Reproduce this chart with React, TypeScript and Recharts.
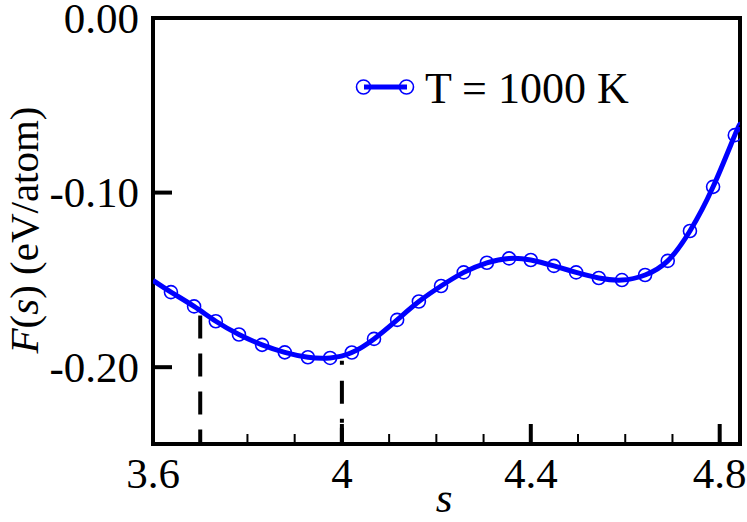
import React from "react";
import {
  LineChart,
  Line,
  XAxis,
  YAxis,
  ReferenceArea,
  ReferenceLine,
} from "recharts";

// marker positions (s) and free energy F(s) in eV/atom
const sMarks = [
  3.638, 3.687, 3.733, 3.782, 3.831, 3.879, 3.928, 3.975, 4.021, 4.068, 4.117,
  4.163, 4.21, 4.258, 4.307, 4.354, 4.4, 4.449, 4.496, 4.544, 4.593, 4.642,
  4.69, 4.737, 4.786, 4.832,
];
const fMarks = [
  -0.157, -0.1652, -0.1737, -0.1813, -0.1872, -0.1915, -0.1943, -0.1947,
  -0.1916, -0.1838, -0.1729, -0.1624, -0.1535, -0.1457, -0.1402, -0.1377,
  -0.1386, -0.142, -0.1457, -0.1489, -0.1501, -0.1472, -0.1391, -0.122,
  -0.0967, -0.0671,
];
// where the fitted curve meets the frame
const curveStart = { s: 3.6, f: -0.1503 };
const curveEnd = { s: 4.843, f: -0.061 };

const xTicks = [3.6, 3.7, 3.8, 3.9, 4.0, 4.1, 4.2, 4.3, 4.4, 4.5, 4.6, 4.7, 4.8];
const xMajor = [3.6, 4.0, 4.4, 4.8];
const yTicks = [0, -0.1, -0.2];
const yLabels = ["0.00", "-0.10", "-0.20"];

const X_MIN = 3.6;
const X_MAX = 4.843;
const Y_MIN = -0.244;
const Y_MAX = 0;

const FONT =
  '"Liberation Serif", "Times New Roman", Times, Tinos, "Nimbus Roman", "Noto Serif", "DejaVu Serif", FreeSerif, serif';
const BLUE = "#0000ff";
const txt = { fontFamily: FONT, fontSize: 43 };

const markData = sMarks.map((s, i) => ({ s, f: fMarks[i] }));
const curveData = [curveStart, ...markData, curveEnd];

function XTick(props: any) {
  const { x, y, payload } = props;
  const v = payload.value;
  const major = xMajor.some((m) => Math.abs(m - v) < 1e-6);
  return (
    <g>
      <line
        x1={x}
        x2={x}
        y1={y}
        y2={y - (major ? 20 : 10)}
        stroke="#000"
        strokeWidth={major ? 4 : 2}
      />
      {major && (
        <text x={x} y={y + 44} textAnchor="middle" fill="#000" style={txt}>
          {String(v)}
        </text>
      )}
    </g>
  );
}

function YTick(props: any) {
  const { x, y, payload, index } = props;
  return (
    <g>
      <line x1={x} x2={x + 19} y1={y} y2={y} stroke="#000" strokeWidth={4} />
      <text x={x - 14} y={y + 14.5} textAnchor="end" fill="#000" style={txt}>
        {yLabels[index] ?? String(payload.value)}
      </text>
    </g>
  );
}

export default function App() {
  return (
    <div style={{ position: "absolute", left: 0, top: 0, width: 747, height: 522, background: "#fff" }}>
      <LineChart
        width={747}
        height={522}
        margin={{ top: 18, right: 7, left: 0, bottom: 0 }}
      >
        <XAxis
          dataKey="s"
          type="number"
          domain={[X_MIN, X_MAX]}
          ticks={xTicks}
          allowDataOverflow
          axisLine={false}
          tickLine={false}
          tickSize={0}
          tickMargin={0}
          height={78}
          tick={<XTick />}
          interval={0}
        />
        <YAxis
          dataKey="f"
          type="number"
          domain={[Y_MIN, Y_MAX]}
          ticks={yTicks}
          allowDataOverflow
          axisLine={false}
          tickLine={false}
          tickSize={0}
          tickMargin={0}
          width={153}
          tick={<YTick />}
          interval={0}
        />
        <ReferenceLine
          segment={[
            { x: 3.7, y: -0.1704 },
            { x: 3.7, y: Y_MIN },
          ]}
          stroke="#000"
          strokeWidth={4}
          strokeDasharray="23 15"
        />
        <ReferenceLine
          segment={[
            { x: 4.0, y: -0.1963 },
            { x: 4.0, y: Y_MIN },
          ]}
          stroke="#000"
          strokeWidth={4}
          strokeDasharray="4 16 23 15 4 5 23 15"
        />
        <Line
          data={curveData}
          dataKey="f"
          type="natural"
          stroke={BLUE}
          strokeWidth={5}
          dot={false}
          activeDot={false}
          isAnimationActive={false}
        />
        <Line
          data={markData}
          dataKey="f"
          stroke="none"
          dot={{ r: 6.5, stroke: BLUE, strokeWidth: 1.6, fill: "none" }}
          activeDot={false}
          isAnimationActive={false}
        />
        <ReferenceArea
          x1={X_MIN}
          x2={X_MAX}
          y1={Y_MIN}
          y2={Y_MAX}
          fill="none"
          stroke="#000"
          strokeWidth={4}
          ifOverflow="visible"
        />
        <g>
          <line x1={364} x2={407} y1={87} y2={87} stroke={BLUE} strokeWidth={5} />
          <circle cx={363.5} cy={87} r={7} fill="none" stroke={BLUE} strokeWidth={1.6} />
          <circle cx={406.5} cy={87} r={7} fill="none" stroke={BLUE} strokeWidth={1.6} />
          <text x={425} y={102.5} fill="#000" style={{ fontFamily: FONT, fontSize: 44 }}>
            T = 1000 K
          </text>
        </g>
        <text x={444} y={512} textAnchor="middle" fill="#000" style={{ ...txt, fontStyle: "italic" }}>
          s
        </text>
        <text
          x={38}
          y={230}
          textAnchor="middle"
          fill="#000"
          style={{ fontFamily: FONT, fontSize: 41 }}
          transform="rotate(-90, 38, 230)"
        >
          <tspan fontStyle="italic">F</tspan>
          <tspan>(</tspan>
          <tspan fontStyle="italic">s</tspan>
          <tspan>) (eV/atom)</tspan>
        </text>
      </LineChart>
    </div>
  );
}
